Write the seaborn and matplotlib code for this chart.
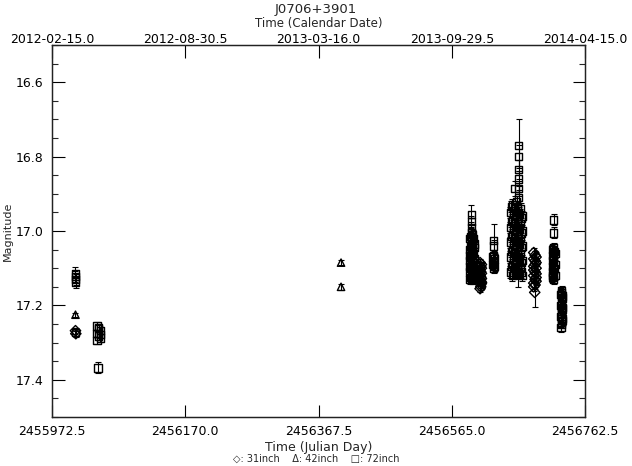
import matplotlib
matplotlib.use("Agg")
import matplotlib.pyplot as plt
import seaborn as sns
import pandas as pd
from matplotlib.ticker import MultipleLocator

# ---------------- data ----------------
# 31inch telescope (diamonds)
jd_31 = [2456007.3, 2456007.8,
         2456607.0, 2456609.0, 2456607.0, 2456609.0, 2456607.0, 2456609.0, 2456607.0, 2456609.0,
         2456608.0, 2456608.0, 2456608.0, 2456608.0, 2456607.0, 2456609.0, 2456607.0, 2456609.0,
         2456608.0, 2456608.0,
         2456686.5, 2456688.5, 2456690.0, 2456686.5, 2456688.5, 2456690.0, 2456686.5, 2456688.5,
         2456690.0, 2456686.5, 2456688.5, 2456690.0, 2456686.5, 2456688.5, 2456690.0, 2456686.5,
         2456688.5, 2456690.0, 2456686.5, 2456688.0]
mag_31 = [17.268, 17.276,
          17.085, 17.090, 17.120, 17.100, 17.103, 17.140, 17.130, 17.114,
          17.095, 17.110, 17.124, 17.150, 17.108, 17.128, 17.155, 17.138,
          17.144, 17.135,
          17.058, 17.065, 17.070, 17.095, 17.080, 17.085, 17.120, 17.110,
          17.100, 17.140, 17.130, 17.115, 17.075, 17.145, 17.135, 17.105,
          17.090, 17.125, 17.150, 17.165]
err_31 = [0.008, 0.008,
          0.010, 0.008, 0.008, 0.008, 0.008, 0.008, 0.008, 0.008,
          0.008, 0.008, 0.008, 0.008, 0.008, 0.008, 0.008, 0.008,
          0.008, 0.010,
          0.012, 0.010, 0.010, 0.010, 0.010, 0.010, 0.010, 0.010,
          0.010, 0.010, 0.010, 0.010, 0.010, 0.010, 0.010, 0.010,
          0.010, 0.010, 0.010, 0.040]

# 42inch telescope (triangles)
jd_42 = [2456007.3, 2456400.9, 2456400.9]
mag_42 = [17.225, 17.085, 17.150]
err_42 = [0.005, 0.006, 0.008]

# 72inch telescope (squares)
jd_72 = [
    # ~2456007
    2456007.0, 2456007.2, 2456007.5, 2456007.8, 2456007.5,
    # ~2456041
    2456039.0, 2456041.5, 2456044.0, 2456039.0, 2456041.5, 2456044.0, 2456039.0,
    2456041.5, 2456044.0, 2456040.5,
    # ~2456595
    2456592.0, 2456592.0, 2456592.0, 2456592.0, 2456592.0, 2456592.0, 2456592.0,
    2456594.0, 2456594.0, 2456594.0, 2456594.0, 2456594.0, 2456594.0, 2456594.0, 2456594.0,
    2456596.0, 2456596.0, 2456596.0, 2456596.0, 2456596.0, 2456596.0,
    2456598.0, 2456598.0, 2456598.0, 2456598.0, 2456598.0,
    2456593.0, 2456593.0, 2456593.0, 2456593.0, 2456593.0,
    2456595.0, 2456595.0, 2456595.0, 2456595.0, 2456595.0,
    2456597.0, 2456597.0, 2456597.0, 2456597.0, 2456597.0,
    # ~2456627
    2456627.0, 2456627.0, 2456627.0, 2456627.0, 2456627.0,
    2456626.0, 2456626.0, 2456628.5, 2456628.5,
    # ~2456652-2456669
    2456652.0, 2456652.0, 2456652.0, 2456652.0, 2456652.0,
    2456655.0, 2456655.0, 2456655.0, 2456655.0, 2456655.0, 2456655.0,
    2456658.0, 2456658.0, 2456658.0, 2456658.0, 2456658.0,
    2456661.0, 2456661.0, 2456661.0, 2456661.0, 2456661.0, 2456661.0,
    2456664.0, 2456664.0, 2456664.0, 2456664.0, 2456664.0, 2456664.0,
    2456664.0, 2456664.0, 2456664.0, 2456664.0, 2456664.0,
    2456667.0, 2456667.0, 2456667.0, 2456667.0, 2456667.0,
    2456669.0, 2456669.0, 2456669.0, 2456669.0, 2456669.0,
    2456659.0, 2456663.0,
    2456653.5, 2456653.5, 2456653.5, 2456653.5, 2456653.5,
    2456656.5, 2456656.5, 2456656.5, 2456656.5, 2456656.5,
    2456659.5, 2456659.5, 2456659.5, 2456659.5, 2456659.5,
    2456662.5, 2456662.5, 2456662.5, 2456662.5, 2456662.5,
    2456665.5, 2456665.5, 2456665.5, 2456665.5, 2456665.5,
    2456668.0, 2456668.0, 2456668.0, 2456668.0, 2456668.0,
    # ~2456716
    2456716.0, 2456716.0, 2456716.0, 2456716.0, 2456716.0, 2456716.0,
    2456714.0, 2456714.0, 2456714.0, 2456714.0,
    2456718.0, 2456718.0, 2456718.0,
    2456715.0, 2456715.0, 2456715.0, 2456717.0, 2456717.0,
    # ~2456728
    2456728.0, 2456728.0, 2456728.0, 2456728.0,
    2456727.0, 2456727.0, 2456727.0, 2456727.0,
    2456729.5, 2456729.5, 2456729.5,
    2456728.5, 2456728.5, 2456728.5, 2456727.5, 2456727.5, 2456727.5]
mag_72 = [
    17.115, 17.122, 17.130, 17.137, 17.272,
    17.255, 17.262, 17.268, 17.275, 17.282, 17.288, 17.295,
    17.260, 17.278, 17.368,
    17.020, 17.050, 17.080, 17.110, 17.130, 17.065, 17.095,
    16.955, 16.975, 16.990, 17.005, 17.030, 17.060, 17.090, 17.120,
    17.010, 17.040, 17.070, 17.100, 17.125, 17.055,
    17.035, 17.075, 17.105, 17.115, 17.045,
    17.015, 17.040, 17.070, 17.100, 17.125,
    17.025, 17.050, 17.080, 17.105, 17.130,
    17.020, 17.060, 17.085, 17.110, 17.130,
    17.025, 17.040, 17.065, 17.085, 17.100,
    17.070, 17.090, 17.075, 17.095,
    16.950, 16.990, 17.030, 17.070, 17.110,
    16.930, 16.970, 17.010, 17.050, 17.090, 17.120,
    16.940, 16.980, 17.020, 17.060, 17.100,
    16.920, 16.960, 17.000, 17.040, 17.080, 17.115,
    16.770, 16.800, 16.835, 16.860, 16.885, 16.910,
    16.950, 16.990, 17.030, 17.070, 17.110,
    16.940, 16.980, 17.020, 17.060, 17.100,
    16.960, 17.000, 17.040, 17.080, 17.120,
    16.885, 17.110,
    16.935, 16.975, 17.015, 17.055, 17.095,
    16.955, 16.995, 17.035, 17.075, 17.110,
    16.945, 16.985, 17.025, 17.065, 17.105,
    16.935, 16.975, 17.015, 17.055, 17.095,
    16.955, 16.995, 17.035, 17.075, 17.115,
    16.965, 17.005, 17.045, 17.085, 17.110,
    16.970, 17.005, 17.045, 17.075, 17.105, 17.130,
    17.050, 17.080, 17.110, 17.125,
    17.060, 17.090, 17.120,
    17.065, 17.095, 17.120, 17.055, 17.100,
    17.160, 17.190, 17.220, 17.250,
    17.170, 17.200, 17.230, 17.260,
    17.180, 17.210, 17.240,
    17.175, 17.205, 17.235, 17.165, 17.215, 17.245]
err_72 = [
    0.018, 0.015, 0.015, 0.015, 0.010,
    0.010, 0.010, 0.010, 0.010, 0.010, 0.010, 0.010,
    0.010, 0.010, 0.015,
    0.012, 0.012, 0.012, 0.012, 0.012, 0.012, 0.012,
    0.025, 0.015, 0.015, 0.012, 0.012, 0.012, 0.012, 0.012,
    0.012, 0.012, 0.012, 0.012, 0.012, 0.012,
    0.012, 0.012, 0.012, 0.012, 0.012,
    0.012, 0.012, 0.012, 0.012, 0.012,
    0.012, 0.012, 0.012, 0.012, 0.012,
    0.012, 0.012, 0.012, 0.012, 0.012,
    0.045, 0.015, 0.015, 0.012, 0.012,
    0.012, 0.012, 0.012, 0.012,
    0.015, 0.015, 0.015, 0.015, 0.015,
    0.015, 0.015, 0.015, 0.015, 0.015, 0.015,
    0.015, 0.015, 0.015, 0.015, 0.015,
    0.015, 0.015, 0.015, 0.015, 0.015, 0.015,
    0.070, 0.030, 0.025, 0.020, 0.020, 0.020,
    0.015, 0.015, 0.015, 0.015, 0.015,
    0.015, 0.015, 0.015, 0.015, 0.015,
    0.015, 0.015, 0.015, 0.015, 0.015,
    0.020, 0.040,
    0.015, 0.015, 0.015, 0.015, 0.015,
    0.015, 0.015, 0.015, 0.015, 0.015,
    0.015, 0.015, 0.015, 0.015, 0.015,
    0.015, 0.015, 0.015, 0.015, 0.015,
    0.015, 0.015, 0.015, 0.015, 0.015,
    0.015, 0.015, 0.015, 0.015, 0.015,
    0.015, 0.015, 0.012, 0.012, 0.012, 0.012,
    0.012, 0.012, 0.012, 0.012,
    0.012, 0.012, 0.012,
    0.012, 0.012, 0.012, 0.012, 0.012,
    0.012, 0.012, 0.012, 0.012,
    0.012, 0.012, 0.012, 0.012,
    0.012, 0.012, 0.012,
    0.012, 0.012, 0.012, 0.012, 0.012, 0.012]

x_ticks = [2455972.5, 2456170.0, 2456367.5, 2456565.0, 2456762.5]
x_ticklabels = ["2455972.5", "2456170.0", "2456367.5", "2456565.0", "2456762.5"]
top_ticklabels = ["2012-02-15.0", "2012-08-30.5", "2013-03-16.0", "2013-09-29.5", "2014-04-15.0"]
y_ticks = [16.6, 16.8, 17.0, 17.2, 17.4]

# ---------------- build table ----------------
df = pd.concat([
    pd.DataFrame({"jd": jd_31, "mag": mag_31, "err": err_31, "tel": "31inch"}),
    pd.DataFrame({"jd": jd_42, "mag": mag_42, "err": err_42, "tel": "42inch"}),
    pd.DataFrame({"jd": jd_72, "mag": mag_72, "err": err_72, "tel": "72inch"}),
], ignore_index=True)

sns.set_theme(style="ticks")
plt.rcParams["font.family"] = ["DejaVu Sans"]

fig = plt.figure(figsize=(6.32, 4.66), dpi=100)
ax = fig.add_axes([52 / 632, 1 - 417 / 466, (585 - 52) / 632, (417 - 45) / 466])

ax.errorbar(df["jd"], df["mag"], yerr=df["err"], fmt="none", ecolor="black",
            elinewidth=0.8, capsize=2.5, capthick=0.8, zorder=2)
sns.scatterplot(data=df, x="jd", y="mag", style="tel",
                markers={"31inch": "D", "42inch": "^", "72inch": "s"},
                s=28, color="black", facecolor="none", edgecolor="black",
                linewidth=1.0, legend=False, ax=ax, zorder=3)

ax.set_xlim(x_ticks[0], x_ticks[-1])
ax.set_ylim(17.5, 16.5)
ax.set_xticks(x_ticks)
ax.set_xticklabels(x_ticklabels, fontsize=9)
ax.set_yticks(y_ticks)
ax.set_yticklabels([f"{v:.1f}" for v in y_ticks], fontsize=9)
ax.yaxis.set_minor_locator(MultipleLocator(0.05))
ax.tick_params(axis="both", which="major", direction="in", length=9, width=0.8,
               top=False, right=True, pad=6, colors="black")
ax.tick_params(axis="y", which="minor", direction="in", length=4.5, width=0.8, right=True)
ax.set_xlabel("Time (Julian Day)", fontsize=9, labelpad=2)
ax.set_ylabel("Magnitude", fontsize=8)
ax.yaxis.set_label_coords(-0.073, 0.5)
for s in ax.spines.values():
    s.set_linewidth(0.9)
    s.set_color("#222222")

top = ax.twiny()
top.set_xlim(ax.get_xlim())
top.set_xticks(x_ticks)
top.set_xticklabels(top_ticklabels, fontsize=9)
top.tick_params(axis="x", direction="in", length=9, width=0.8, pad=-1, colors="black")
top.set_xlabel("Time (Calendar Date)", fontsize=8.5)
top.xaxis.set_label_coords(0.5, 1 + (45 - 23) / 372)
top.xaxis.label.set_va("center")
for s in top.spines.values():
    s.set_linewidth(0.9)
    s.set_color("#222222")

fig.text(0.5, 1 - 9 / 466, "J0706+3901", ha="center", va="center", fontsize=9.5)
fig.text(0.5, 1 - 459 / 466, "\u25C7: 31inch    \u0394: 42inch    \u25A1: 72inch",
         ha="center", va="center", fontsize=7)

fig.savefig("out.png", dpi=100)
